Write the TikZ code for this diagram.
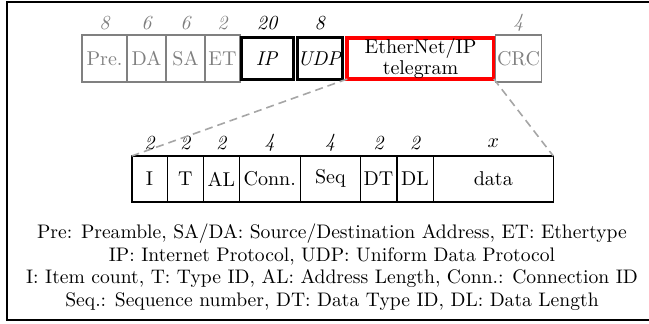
\documentclass[tikz,border=0pt]{standalone}
\usepackage{tikz}
\usetikzlibrary{positioning}
\tikzstyle{field} = [draw=gray, rectangle, text centered, text=gray, thick, inner sep=0pt, outer sep=0pt, minimum height=23.5pt]
\tikzstyle{hdr} = [draw, rectangle, text centered, line width=1.5pt, inner sep=0pt, outer sep=0pt, minimum height=21.4pt]
\tikzstyle{tele} = [draw=red, rectangle, align=center, line width=2pt, inner sep=0pt, outer sep=0pt, minimum height=20.5pt]
\tikzstyle{item} = [draw, rectangle, text centered, thick, inner sep=0pt, outer sep=0pt, minimum height=22.85pt]
\tikzstyle{num} = [inner sep=0pt, font=\itshape]
\tikzstyle{zoomline} = [draw=gray!70, thick, dash pattern=on 4pt off 2.5pt]

\begin{document}
\begin{tikzpicture}
        \useasboundingbox (0,0) rectangle (324.5pt,-161.5pt);
        \draw[line width=1pt] (324.5pt,-1pt) -- (3.5pt,-1pt) -- (3.5pt,-160pt) -- (324.5pt,-160pt);
        \coordinate (toprow) at (0,-11.5pt);
        \coordinate (lowrow) at (0,-71.5pt);
        % ethernet frame
        \node[field, minimum width=22.5pt] (pre) at (52.25pt,-29.25pt) {Pre.};
        \node[field, minimum width=19.5pt, right=0pt of pre] (da) {DA};
        \node[field, minimum width=19.5pt, right=0pt of da] (sa) {SA};
        \node[field, minimum width=17.5pt, right=0pt of sa] (et) {ET};
        \node[hdr, minimum width=26pt, right=0.5pt of et] (ip) {\textit{IP}};
        \node[hdr, minimum width=20.5pt, right=2.25pt of ip] (udp) {\textit{UDP}};
        \node[tele, minimum width=73.3pt, right=2.6pt of udp] (enip) {EtherNet/IP\\[-1.5pt]telegram};
        \node[field, minimum width=23pt, right=0.85pt of enip] (crc) {CRC};
        \node[num, text=gray] at (pre |- toprow) {8};
        \node[num, text=gray] at (da |- toprow) {6};
        \node[num, text=gray] at (sa |- toprow) {6};
        \node[num, text=gray] at (et |- toprow) {2};
        \node[num] at (ip |- toprow) {20};
        \node[num] at (udp |- toprow) {8};
        \node[num, text=gray] at (crc |- toprow) {4};
        % telegram
        \node[item, minimum width=17.8pt] (icnt) at (74.75pt,-89.43pt) {I};
        \node[item, minimum width=18pt, right=0pt of icnt] (tid) {T};
        \node[item, minimum width=18pt, right=0pt of tid] (al) {AL};
        \node[item, minimum width=30.5pt, right=0pt of al] (conn) {Conn.};
        \node[item, minimum width=30pt, right=0pt of conn] (seq) {Seq};
        \node[item, minimum width=18.2pt, right=0pt of seq] (dt) {DT};
        \node[item, minimum width=18.3pt, right=0pt of dt] (dl) {DL};
        \node[item, minimum width=60pt, right=0pt of dl] (data) {data};
        \node[num] at (icnt |- lowrow) {2};
        \node[num] at (tid |- lowrow) {2};
        \node[num] at (al |- lowrow) {2};
        \node[num] at (conn |- lowrow) {4};
        \node[num] at (seq |- lowrow) {4};
        \node[num] at (dt |- lowrow) {2};
        \node[num] at (dl |- lowrow) {2};
        \node[inner sep=0pt] at (data |- lowrow) {$x$};
        \path[zoomline] (enip.south west) -- (icnt.north west);
        \path[zoomline] (enip.south east) -- (data.north east);
        \node[align=center, font=\fontsize{9.8}{11.25}\selectfont] (legend) at (166pt,-133.5pt) {Pre: Preamble, SA/DA: Source/Destination Address, ET: Ethertype\\
            IP: Internet Protocol, UDP: Uniform Data Protocol\\
            I: Item count, T: Type ID, AL: Address Length, Conn.: Connection ID\\
            Seq.: Sequence number, DT: Data Type ID, DL: Data Length};
    \end{tikzpicture}
\end{document}
